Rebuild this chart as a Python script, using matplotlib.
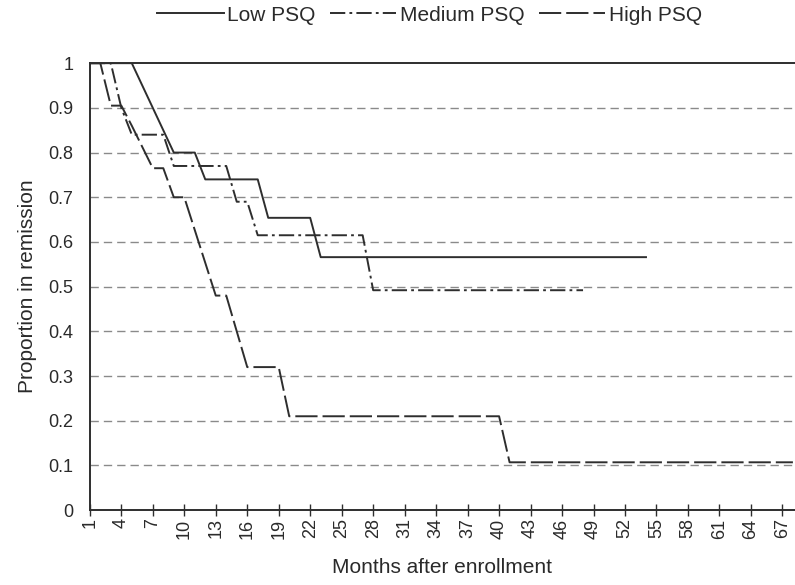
import numpy as np
import matplotlib
matplotlib.use("Agg")
import matplotlib.pyplot as plt

plt.rcParams['font.family'] = ['Liberation Sans', 'DejaVu Sans']
plt.rcParams['lines.scale_dashes'] = False

# Kaplan-Meier style remission curves
low_months = [1, 5, 9, 11, 12, 17, 18, 22, 23, 54]
low_prop = [1.0, 1.0, 0.80, 0.80, 0.74, 0.74, 0.654, 0.654, 0.566, 0.566]

med_months = [1, 3, 4, 5, 8, 9, 14, 15, 16, 17, 27, 28, 48]
med_prop = [1.0, 1.0, 0.90, 0.84, 0.84, 0.77, 0.77, 0.69, 0.69, 0.615,
            0.615, 0.492, 0.492]

high_months = [1, 2, 3, 4, 5, 7, 8, 9, 10, 13, 14, 16, 19, 20, 40, 41, 68]
high_prop = [1.0, 1.0, 0.905, 0.905, 0.86, 0.765, 0.765, 0.70, 0.70, 0.48,
             0.48, 0.32, 0.32, 0.21, 0.21, 0.107, 0.107]

x_ticks = list(range(1, 68, 3))
y_ticks = [0, 0.1, 0.2, 0.3, 0.4, 0.5, 0.6, 0.7, 0.8, 0.9, 1.0]
y_labels = ['0', '0.1', '0.2', '0.3', '0.4', '0.5', '0.6', '0.7', '0.8', '0.9', '1']

line_col = '#2e2e2e'
text_col = '#2a2a2a'

fig = plt.figure(figsize=(7.95, 5.85), dpi=100)
ax = fig.add_axes([0.113, 0.128, 0.887, 0.764])

# grid lines
for yv in y_ticks[1:-1]:
    ax.axhline(yv, color='#8a8a8a', lw=1.0, dashes=(6, 3.6), zorder=1)

ax.plot(low_months, low_prop, color=line_col, lw=1.4, label='Low PSQ', zorder=3)
ax.plot(med_months, med_prop, color=line_col, lw=1.4, dashes=(11, 3, 2, 3),
        label='Medium PSQ', zorder=3)
ax.plot(high_months, high_prop, color=line_col, lw=1.4, dashes=(16, 3.6),
        label='High PSQ', zorder=3)

ax.set_xlim(1, 68.2)
ax.set_ylim(0, 1)
ax.set_xticks(x_ticks)
ax.set_xticklabels([str(v) for v in x_ticks], rotation=90, fontsize=13, color=text_col)
ax.set_yticks(y_ticks)
ax.set_yticklabels(y_labels, fontsize=13, color=text_col)
ax.tick_params(axis='x', direction='inout', length=8, width=1.0, color=line_col, pad=2)
ax.tick_params(axis='y', length=0, pad=12)

for side in ['left', 'bottom', 'top']:
    ax.spines[side].set_color(line_col)
    ax.spines[side].set_linewidth(1.4)
ax.spines['right'].set_visible(False)

ax.set_xlabel('Months after enrollment', fontsize=15, color=text_col, labelpad=14)
ax.set_ylabel('Proportion in remission', fontsize=15, color=text_col, labelpad=8)

fig.legend(loc='center', bbox_to_anchor=(0.54, 0.974), ncol=3, frameon=False,
           fontsize=15, handlelength=3.2, handletextpad=0.15, columnspacing=0.7,
           labelcolor=text_col)

fig.savefig('out.png', dpi=100)
